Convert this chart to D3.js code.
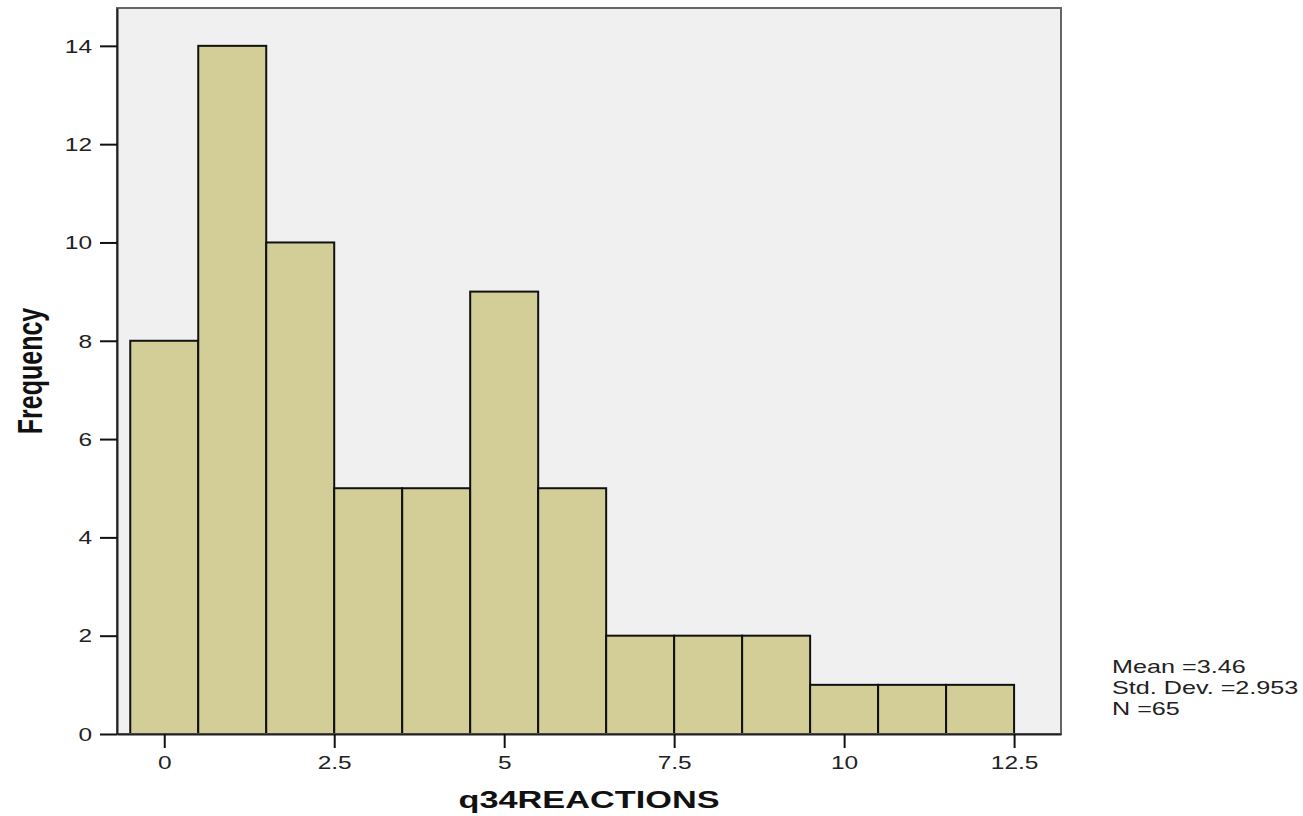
<!DOCTYPE html>
<html>
<head>
<meta charset="utf-8">
<script src="https://cdn.jsdelivr.net/npm/d3@7"></script>
<style>
  html, body { margin: 0; padding: 0; background: #ffffff; }
  svg text { font-family: "Liberation Sans", Arial, sans-serif; }
</style>
</head>
<body>
<svg id="chart" width="1303" height="816"></svg>
<script>
// ---- data ----
const binCenters = [0, 1, 2, 3, 4, 5, 6, 7, 8, 9, 10, 11, 12];
const binWidth = 1;
const frequencies = [8, 14, 10, 5, 5, 9, 5, 2, 2, 2, 1, 1, 1];
const xTicks = [0, 2.5, 5, 7.5, 10, 12.5];
const yTicks = [0, 2, 4, 6, 8, 10, 12, 14];
const xTitle = "q34REACTIONS";
const yTitle = "Frequency";
const statsLines = ["Mean =3.46", "Std. Dev. =2.953", "N =65"];

// ---- layout ----
const plot = { left: 117, right: 1061, top: 8, bottom: 734 };
const stretch = 1.4; // horizontal text stretch seen in the reference

const svg = d3.select("#chart");

const x = d3.scaleLinear().domain([-0.695, 13.19]).range([plot.left, plot.right]);
const y = d3.scaleLinear().domain([0, 14.77]).range([plot.bottom, plot.top]);

// plot background
svg.append("rect")
  .attr("x", plot.left).attr("y", plot.top)
  .attr("width", plot.right - plot.left).attr("height", plot.bottom - plot.top)
  .attr("fill", "#f0f0f0");

// bars
svg.append("g").selectAll("rect")
  .data(binCenters.map((c, i) => ({ c, f: frequencies[i] })))
  .join("rect")
  .attr("x", d => x(d.c - binWidth / 2))
  .attr("y", d => y(d.f))
  .attr("width", d => x(d.c + binWidth / 2) - x(d.c - binWidth / 2))
  .attr("height", d => y(0) - y(d.f))
  .attr("fill", "#d3ce97")
  .attr("stroke", "#111")
  .attr("stroke-width", 2);

// frame
svg.append("rect")
  .attr("x", plot.left).attr("y", plot.top)
  .attr("width", plot.right - plot.left).attr("height", plot.bottom - plot.top)
  .attr("fill", "none")
  .attr("stroke", "#666")
  .attr("stroke-width", 2);

// y axis
const yAxis = svg.append("g")
  .attr("transform", `translate(${plot.left},0)`)
  .call(d3.axisLeft(y).tickValues(yTicks).tickFormat(d3.format("d")).tickSize(17).tickSizeOuter(0));
yAxis.select(".domain").attr("stroke", "#222").attr("stroke-width", 2);
yAxis.selectAll(".tick line").attr("stroke", "#111").attr("stroke-width", 2);
yAxis.selectAll(".tick text")
  .attr("x", 0).attr("dy", null).attr("y", 6.3)
  .attr("transform", `translate(-25,0) scale(${stretch},1)`)
  .attr("text-anchor", "end")
  .attr("font-size", 17.5)
  .attr("fill", "#222");

// x axis
const xAxis = svg.append("g")
  .attr("transform", `translate(0,${plot.bottom})`)
  .call(d3.axisBottom(x).tickValues(xTicks).tickFormat(d => String(d)).tickSize(14).tickSizeOuter(0));
xAxis.select(".domain").attr("stroke", "#222").attr("stroke-width", 2);
xAxis.selectAll(".tick line").attr("stroke", "#111").attr("stroke-width", 2);
xAxis.selectAll(".tick text")
  .attr("y", 0).attr("dy", null)
  .attr("transform", `translate(0,35) scale(${stretch},1)`)
  .attr("text-anchor", "middle")
  .attr("font-size", 17.5)
  .attr("fill", "#222");

// axis titles
svg.append("text")
  .attr("transform", `translate(589,808) scale(${stretch},1)`)
  .attr("text-anchor", "middle")
  .attr("font-size", 24.5)
  .attr("font-weight", "bold")
  .attr("fill", "#111")
  .text(xTitle);

svg.append("text")
  .attr("transform", `translate(42,371) scale(${stretch},1) rotate(-90)`)
  .attr("text-anchor", "middle")
  .attr("font-size", 25)
  .attr("font-weight", "bold")
  .attr("fill", "#111")
  .text(yTitle);

// stats box text
svg.append("g").selectAll("text")
  .data(statsLines)
  .join("text")
  .attr("transform", (d, i) => `translate(1112,${673 + i * 21}) scale(${stretch},1)`)
  .attr("font-size", 18)
  .attr("fill", "#222")
  .text(d => d);
</script>
</body>
</html>
